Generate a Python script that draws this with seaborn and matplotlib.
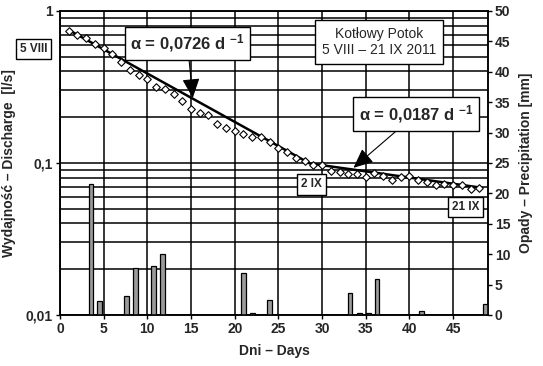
import matplotlib
matplotlib.use("Agg")
import matplotlib.pyplot as plt
import seaborn as sns
import numpy as np
import pandas as pd
from matplotlib.ticker import FixedLocator, NullFormatter, LogLocator

# ---------------- data ----------------
days = list(range(1, 49))
discharge = [0.742, 0.698, 0.661, 0.609, 0.568, 0.521, 0.464, 0.409, 0.379, 0.357,
             0.316, 0.308, 0.283, 0.255, 0.227, 0.213, 0.208, 0.180, 0.171, 0.163,
             0.156, 0.149, 0.149, 0.137, 0.126, 0.118, 0.108, 0.103, 0.097, 0.0966,
             0.0886, 0.0873, 0.0851, 0.0843, 0.0813, 0.0855, 0.082, 0.0776, 0.0805, 0.082,
             0.0773, 0.075, 0.0717, 0.0728, 0.0713, 0.0717, 0.0675, 0.0685]

fit_days = [1.0, 28.6, 48.3]
fit_q = [0.75, 0.0993, 0.0687]

rain_day = [3.55, 4.55, 7.65, 8.65, 10.7, 11.7, 21.0, 22.0, 24.0, 33.2, 34.25, 35.3, 36.3, 41.4, 48.7]
rain_mm = [21.5, 2.3, 3.1, 7.7, 8.1, 10.1, 6.9, 0.3, 2.5, 3.6, 0.3, 0.3, 6.0, 0.6, 1.8]

q_ticks = [0.01, 0.1, 1]
q_ticklabels = ["0,01", "0,1", "1"]
day_ticks = [0, 5, 10, 15, 20, 25, 30, 35, 40, 45]
mm_ticks = [0, 5, 10, 15, 20, 25, 30, 35, 40, 45, 50]

alpha1_text = "α = 0,0726 d $^{-1}$"
alpha2_text = "α = 0,0187 d $^{-1}$"
station_text = "Kotłowy Potok\n5 VIII – 21 IX 2011"

# ---------------- style ----------------
sns.set_style("white")
plt.rcParams["font.family"] = ["Liberation Sans", "DejaVu Sans"]
plt.rcParams["mathtext.fontset"] = "custom"
plt.rcParams["mathtext.rm"] = "Liberation Sans"
plt.rcParams["mathtext.bf"] = "Liberation Sans:bold"
plt.rcParams["mathtext.default"] = "bf"

fig = plt.figure(figsize=(5.43, 3.66), dpi=100)
ax = fig.add_axes([60 / 543, 1 - 315 / 366, (488 - 60) / 543, (315 - 11) / 366])
ax2 = ax.twinx()

ax.set_yscale("log")
ax.set_ylim(0.01, 1)
ax.set_xlim(0, 49)

# grid
ax.yaxis.set_major_locator(FixedLocator(q_ticks))
ax.yaxis.set_minor_locator(LogLocator(base=10, subs=np.arange(2, 10)))
ax.yaxis.set_minor_formatter(NullFormatter())
ax.set_yticklabels(q_ticklabels)
ax.set_xticks(day_ticks)
ax.grid(True, which="both", axis="y", color="black", lw=1.1)
ax.grid(True, which="major", axis="x", color="black", lw=1.1)

# discharge points & fit line
sns.lineplot(x=fit_days, y=fit_q, ax=ax, color="black", lw=1.8, zorder=3)
sns.scatterplot(x=days, y=discharge, ax=ax, marker="D", s=15, color="white",
                edgecolor="black", linewidth=0.8, zorder=4)

# precipitation bars
sns.barplot(x=rain_day, y=rain_mm, ax=ax2, native_scale=True, width=0.55,
            color="#9a9a9a", edgecolor="black", linewidth=0.9, errorbar=None,
            saturation=1)
ax2.set_ylim(0, 50)
ax2.set_xlim(0, 49)
ax2.set_yticks(mm_ticks)
ax.set_xlim(0, 49)

for a in (ax, ax2):
    a.tick_params(axis="both", which="major", length=3, width=1, color="black",
                  direction="out", labelsize=10, pad=2)
    a.tick_params(axis="y", which="minor", length=0)
    for lab in a.get_xticklabels() + a.get_yticklabels():
        lab.set_fontweight("bold")
    for sp in a.spines.values():
        sp.set_color("black")
        sp.set_linewidth(1.1)
ax.tick_params(axis="y", which="major", left=True)
ax2.tick_params(axis="y", which="major", right=True)
ax.tick_params(axis="x", bottom=True)

ax.set_xlabel("Dni – Days", fontsize=10, fontweight="bold", labelpad=6)
ax.set_ylabel("Wydajność – Discharge  [l/s]", fontsize=10, fontweight="bold", labelpad=7)
ax2.set_ylabel("Opady – Precipitation [mm]", fontsize=10, fontweight="bold",
               rotation=90, labelpad=6)

# annotations
arrowkw = dict(arrowstyle="-|>,head_length=1.0,head_width=0.45", color="black",
               lw=0.8, shrinkA=0, shrinkB=0)

ax2.annotate(alpha1_text, xy=(15.2, 0.268), xycoords=ax.transData,
             xytext=(187.5 / 543, 1 - 43.5 / 366), textcoords="figure fraction",
             ha="center", va="center", fontsize=12, fontweight="bold",
             bbox=dict(boxstyle="square,pad=0.35", fc="white", ec="black", lw=1),
             arrowprops=arrowkw, zorder=10)
ax2.annotate(alpha2_text, xy=(33.6, 0.093), xycoords=ax.transData,
             xytext=(416 / 543, 1 - 114 / 366), textcoords="figure fraction",
             ha="center", va="center", fontsize=12, fontweight="bold",
             bbox=dict(boxstyle="square,pad=0.35", fc="white", ec="black", lw=1),
             arrowprops=arrowkw, zorder=10)

fig.text(379 / 543, 1 - 42 / 366, station_text, ha="center", va="center",
         fontsize=10, linespacing=1.15,
         bbox=dict(boxstyle="square,pad=0.5", fc="white", ec="black", lw=1), zorder=10)
fig.text(33.5 / 543, 1 - 49 / 366, "5 VIII", ha="center", va="center", fontsize=8.5,
         fontweight="bold", bbox=dict(boxstyle="square,pad=0.35", fc="white", ec="black", lw=1))
fig.text(311.5 / 543, 1 - 184.5 / 366, "2 IX", ha="center", va="center", fontsize=8.5,
         fontweight="bold", bbox=dict(boxstyle="square,pad=0.35", fc="white", ec="black", lw=1),
         zorder=10)
fig.text(465.5 / 543, 1 - 207 / 366, "21 IX", ha="center", va="center", fontsize=8.5,
         fontweight="bold", bbox=dict(boxstyle="square,pad=0.35", fc="white", ec="black", lw=1),
         zorder=10)

fig.savefig("out.png", dpi=100)
